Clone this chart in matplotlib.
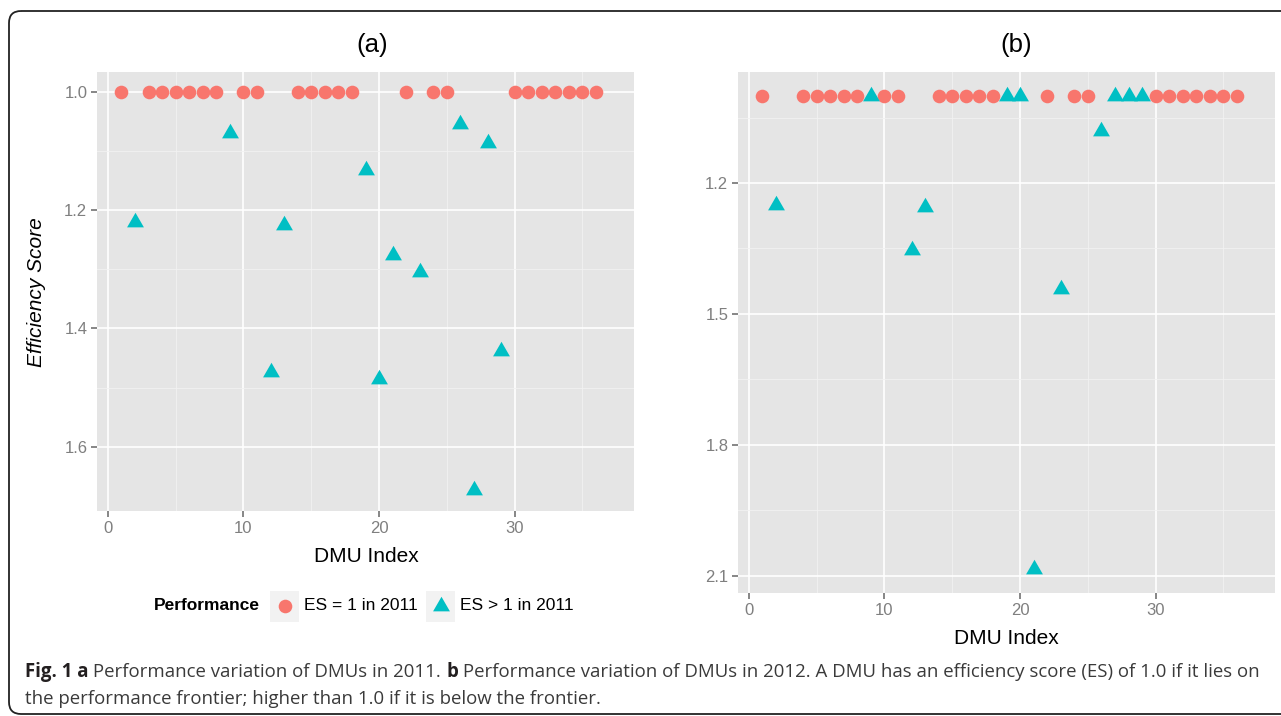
import matplotlib
matplotlib.use("Agg")
import matplotlib.pyplot as plt
from matplotlib.patches import FancyBboxPatch, Rectangle
from matplotlib.path import Path

# values
# (a) 2011
dmu_eq_2011 = [1, 3, 4, 5, 6, 7, 8, 10, 11, 14, 15, 16, 17, 18, 22, 24, 25,
               30, 31, 32, 33, 34, 35, 36]
es_eq_2011 = [1.0, 1.0, 1.0, 1.0, 1.0, 1.0, 1.0, 1.0, 1.0, 1.0, 1.0, 1.0,
              1.0, 1.0, 1.0, 1.0, 1.0, 1.0, 1.0, 1.0, 1.0, 1.0, 1.0, 1.0]
dmu_gt_2011 = [2, 9, 12, 13, 19, 20, 21, 23, 26, 27, 28, 29]
es_gt_2011 = [1.220, 1.070, 1.474, 1.225, 1.132, 1.485, 1.276, 1.305,
              1.054, 1.674, 1.087, 1.439]

# (b) 2012, shapes/colours still by the 2011 group
dmu_eq_2012 = [1, 4, 5, 6, 7, 8, 10, 11, 14, 15, 16, 17, 18, 22, 24, 25,
               30, 31, 32, 33, 34, 35, 36]
es_eq_2012 = [1.0, 1.0, 1.0, 1.0, 1.0, 1.0, 1.0, 1.0, 1.0, 1.0, 1.0, 1.0,
              1.0, 1.0, 1.0, 1.0, 1.0, 1.0, 1.0, 1.0, 1.0, 1.0, 1.0]
dmu_gt_2012 = [2, 9, 12, 13, 19, 20, 21, 23, 26, 27, 28, 29]
es_gt_2012 = [1.251, 1.0, 1.354, 1.254, 1.0, 1.0, 2.084, 1.443, 1.080,
              1.0, 1.0, 1.0]

yticks_a = [1.0, 1.2, 1.4, 1.6]
yminor_a = [1.1, 1.3, 1.5]
yticks_b = [1.2, 1.5, 1.8, 2.1]
yminor_b = [1.05, 1.35, 1.65, 1.95]
xticks = [0, 10, 20, 30]
xminor = [5, 15, 25, 35]

legend_title = "Performance"
legend_labels = ["ES = 1 in 2011", "ES > 1 in 2011"]

RED = '#F8766D'
TEAL = '#00BFC4'
FONT = ['Liberation Sans', 'DejaVu Sans']

# R style triangle (pch 17): point sits at the centroid
TRI = Path([(0, 1.555), (1.3468, -0.7776), (-1.3468, -0.7776), (0, 1.555)],
           [Path.MOVETO, Path.LINETO, Path.LINETO, Path.CLOSEPOLY])

plt.rcParams['font.family'] = FONT

fig = plt.figure(figsize=(12.81, 7.16), dpi=100)
fig.patch.set_facecolor('white')

# overlay axes in pixel units for border, titles, legend and caption
ov = fig.add_axes([0, 0, 1, 1], zorder=0)
ov.set_xlim(0, 1281)
ov.set_ylim(716, 0)
ov.axis('off')

ax_a = fig.add_axes([97 / 1281, 1 - 511 / 716, 537 / 1281, 439 / 716], zorder=1)
ax_b = fig.add_axes([738 / 1281, 1 - 593 / 716, 537 / 1281, 521 / 716], zorder=1)


def style_axes(ax, yt, ym, ylim):
    ax.set_facecolor('#E5E5E5')
    ax.set_xlim(-0.8, 38.8)
    ax.set_ylim(*ylim)
    ax.set_xticks(xticks)
    ax.set_xticks(xminor, minor=True)
    ax.set_yticks(yt)
    ax.set_yticklabels([f"{v:.1f}" for v in yt])
    ax.set_yticks(ym, minor=True)
    ax.grid(which='major', color='white', lw=1.2)
    ax.grid(which='minor', color='#F2F2F2', lw=0.6)
    ax.set_axisbelow(True)
    for s in ax.spines.values():
        s.set_visible(False)
    ax.tick_params(which='major', length=4, width=1.1, color='#666666',
                   labelcolor='#7F7F7F', labelsize=12, pad=3)
    ax.tick_params(which='minor', length=0)


style_axes(ax_a, yticks_a, yminor_a, (1.709, 0.966))
style_axes(ax_b, yticks_b, yminor_b, (2.14, 0.9455))

for ax, xe, ye, xg, yg in [(ax_a, dmu_eq_2011, es_eq_2011, dmu_gt_2011, es_gt_2011),
                           (ax_b, dmu_eq_2012, es_eq_2012, dmu_gt_2012, es_gt_2012)]:
    ax.plot(xe, ye, 'o', ms=9.8, color=RED, mec='none', zorder=3)
    ax.plot(xg, yg, ls='none', marker=TRI, ms=14, color=TEAL, mec='none', zorder=4)

# titles and axis labels
ov.text(372, 45, "(a)", fontsize=18.5, ha='center', va='center')
ov.text(1016, 45, "(b)", fontsize=18.5, ha='center', va='center')
ov.text(366, 556, "DMU Index", fontsize=15, ha='center', va='center')
ov.text(1006, 638, "DMU Index", fontsize=15, ha='center', va='center')
ov.text(37, 292, "Efficiency Score", fontsize=15, style='italic', rotation=90,
        ha='center', va='center')

# legend below panel (a)
ov.text(154, 606, legend_title, fontsize=12.5, fontweight='bold', ha='left', va='center')
ov.add_patch(Rectangle((270, 591), 29, 31, color='#F2F2F2', lw=0))
ov.add_patch(Rectangle((426, 591), 29, 31, color='#F2F2F2', lw=0))
ov.plot([284.5], [606], 'o', ms=9.8, color=RED, mec='none')
ov.plot([440.5], [606], ls='none', marker=TRI, ms=14, color=TEAL, mec='none')
ov.text(304, 606, legend_labels[0], fontsize=12.5, ha='left', va='center')
ov.text(460, 606, legend_labels[1], fontsize=12.5, ha='left', va='center')

# rounded frame
frame = FancyBboxPatch((9, 11), 1300, 703, boxstyle="round,pad=0,rounding_size=12",
                       fc='none', ec='#222222', lw=1.3, clip_on=False)
ov.add_patch(frame)

# caption with mixed weights
cap_font = ['Open Sans', 'DejaVu Sans']
cap_size = 13.45
line1 = [("Fig. 1 a", 'bold'), (" Performance variation of DMUs in 2011. ", 'normal'),
         ("b", 'bold'),
         (" Performance variation of DMUs in 2012. A DMU has an efficiency score (ES) of 1.0 if it lies on", 'normal')]
line2 = [("the performance frontier; higher than 1.0 if it is below the frontier.", 'normal')]

r = fig.canvas.get_renderer()
for segs, yb in [(line1, 677), (line2, 704)]:
    x = 25
    for txt, w in segs:
        t = ov.text(x, yb, txt, fontsize=cap_size, fontweight=w, family=cap_font,
                    color='#231F20' if w == 'bold' else '#3A3A3A', va='baseline', ha='left')
        x += t.get_window_extent(r).width

fig.savefig('out.png', dpi=100, facecolor='white')
